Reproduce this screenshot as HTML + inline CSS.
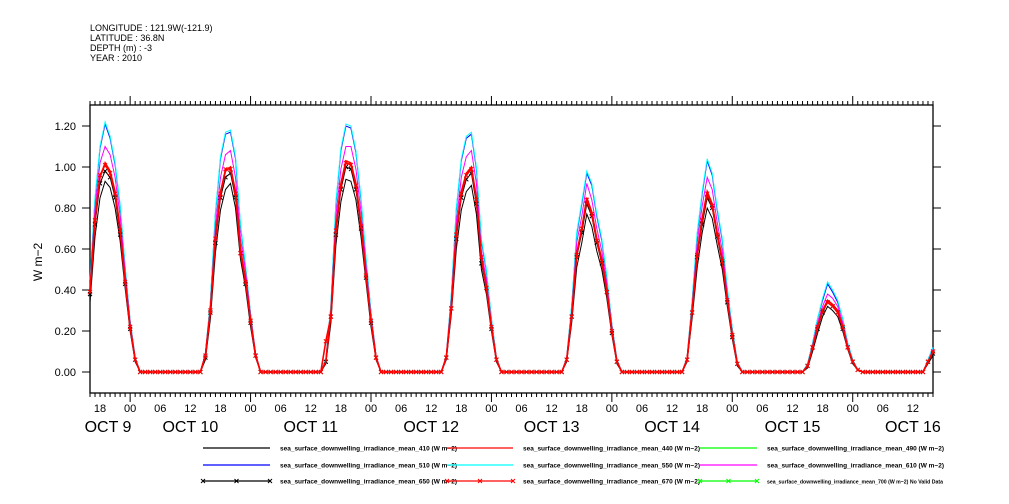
<!DOCTYPE html>
<html><head><meta charset="utf-8"><style>
body{margin:0;background:#fff;}
svg{display:block;font-family:"Liberation Sans",sans-serif;}
</style></head><body>
<svg id="chart" width="1009" height="504" viewBox="0 0 1009 504">
<g font-size="9" fill="#000">
<text x="90" y="31">LONGITUDE : 121.9W(-121.9)</text>
<text x="90" y="41">LATITUDE : 36.8N</text>
<text x="90" y="51">DEPTH (m) : -3</text>
<text x="90" y="61">YEAR : 2010</text>
</g>
<g id="axes"></g>
<g id="series"></g>
<g id="legend"></g>
</svg>
<script>
// Hours of day covered by each daily array: 14,15,...,23,00,01,02
const dayHours = [14,15,16,17,18,19,20,21,22,23,0,1,2];
const dayLabels = ["OCT  9","OCT 10","OCT 11","OCT 12","OCT 13","OCT 14","OCT 15","OCT 16"];
const yTicks = [0,0.2,0.4,0.6,0.8,1.0,1.2];
const hourTickLabels = ["00","06","12","18"];
// per-series daily values (Oct 9..Oct 15, then Oct 16 partial 14..16h)
const red440 = [
 [null,null,0.40,0.75,0.95,1.02,0.98,0.88,0.70,0.45,0.22,0.06,0],
 [0,0.08,0.30,0.66,0.88,0.98,1.00,0.88,0.60,0.45,0.25,0.08,0],
 [0,0.05,0.28,0.70,0.92,1.03,1.02,0.92,0.72,0.48,0.25,0.07,0],
 [0,0.07,0.32,0.68,0.88,0.97,1.00,0.85,0.55,0.42,0.22,0.06,0],
 [0,0.06,0.28,0.58,0.70,0.85,0.78,0.65,0.55,0.40,0.20,0.05,0],
 [0,0.06,0.30,0.58,0.75,0.88,0.82,0.68,0.55,0.35,0.18,0.04,0],
 [0,0.03,0.12,0.22,0.30,0.35,0.33,0.30,0.22,0.12,0.05,0.01,0],
 [0,0.05,0.10]];
const cyan550 = [
 [null,null,0.45,0.85,1.10,1.22,1.15,1.02,0.82,0.52,0.25,0.07,0],
 [0,0.09,0.35,0.78,1.05,1.17,1.18,1.05,0.72,0.52,0.28,0.09,0],
 [0,0.06,0.33,0.83,1.09,1.21,1.20,1.08,0.85,0.56,0.29,0.08,0],
 [0,0.08,0.38,0.80,1.04,1.15,1.17,1.00,0.65,0.50,0.26,0.07,0],
 [0,0.07,0.33,0.68,0.83,0.98,0.92,0.77,0.65,0.47,0.23,0.06,0],
 [0,0.07,0.35,0.68,0.88,1.04,0.97,0.80,0.65,0.41,0.21,0.05,0],
 [0,0.04,0.14,0.26,0.36,0.44,0.40,0.35,0.26,0.14,0.06,0.01,0],
 [0,0.06,0.12]];
const blue510 = [
 [null,null,0.44,0.84,1.09,1.21,1.14,1.01,0.81,0.51,0.25,0.07,0],
 [0,0.09,0.34,0.77,1.04,1.16,1.17,1.04,0.71,0.51,0.28,0.09,0],
 [0,0.06,0.32,0.82,1.08,1.20,1.19,1.07,0.84,0.55,0.29,0.08,0],
 [0,0.08,0.37,0.79,1.03,1.14,1.16,0.99,0.64,0.49,0.26,0.07,0],
 [0,0.07,0.32,0.67,0.82,0.97,0.91,0.76,0.64,0.46,0.23,0.06,0],
 [0,0.07,0.34,0.67,0.87,1.03,0.96,0.79,0.64,0.40,0.21,0.05,0],
 [0,0.04,0.14,0.26,0.35,0.43,0.39,0.34,0.26,0.14,0.06,0.01,0],
 [0,0.06,0.12]];
const magenta610 = [
 [null,null,0.42,0.80,1.02,1.10,1.06,0.95,0.76,0.49,0.24,0.06,0],
 [0,0.09,0.32,0.71,0.95,1.06,1.08,0.95,0.65,0.49,0.27,0.09,0],
 [0,0.05,0.30,0.76,0.99,1.10,1.10,0.99,0.78,0.52,0.27,0.08,0],
 [0,0.08,0.35,0.73,0.95,1.05,1.08,0.92,0.59,0.45,0.24,0.06,0],
 [0,0.06,0.30,0.63,0.76,0.92,0.84,0.70,0.59,0.43,0.22,0.05,0],
 [0,0.06,0.32,0.63,0.81,0.95,0.89,0.73,0.59,0.38,0.19,0.04,0],
 [0,0.03,0.13,0.24,0.32,0.38,0.36,0.32,0.24,0.13,0.05,0.01,0],
 [0,0.05,0.11]];
const black410 = [
 [null,null,0.34,0.66,0.85,0.93,0.90,0.80,0.64,0.41,0.20,0.05,0],
 [0,0.06,0.26,0.58,0.79,0.89,0.92,0.80,0.55,0.41,0.22,0.07,0],
 [0,0.04,0.24,0.62,0.83,0.94,0.93,0.84,0.66,0.44,0.22,0.06,0],
 [0,0.06,0.28,0.60,0.79,0.88,0.91,0.77,0.50,0.38,0.20,0.05,0],
 [0,0.05,0.24,0.51,0.63,0.77,0.71,0.59,0.50,0.36,0.18,0.04,0],
 [0,0.05,0.26,0.51,0.68,0.80,0.75,0.62,0.50,0.32,0.16,0.03,0],
 [0,0.02,0.10,0.19,0.27,0.32,0.30,0.27,0.20,0.11,0.04,0.01,0],
 [0,0.04,0.08]];
const black650 = [
 [null,null,0.38,0.72,0.92,0.98,0.95,0.85,0.67,0.43,0.21,0.06,0],
 [0,0.07,0.29,0.63,0.85,0.95,0.97,0.85,0.58,0.43,0.24,0.08,0],
 [0,0.05,0.27,0.67,0.89,1.00,0.99,0.89,0.70,0.46,0.24,0.07,0],
 [0,0.07,0.31,0.65,0.85,0.94,0.97,0.82,0.53,0.41,0.21,0.06,0],
 [0,0.06,0.27,0.56,0.68,0.82,0.76,0.63,0.53,0.39,0.19,0.05,0],
 [0,0.06,0.29,0.56,0.72,0.85,0.80,0.66,0.53,0.34,0.17,0.04,0],
 [0,0.03,0.12,0.21,0.29,0.34,0.32,0.29,0.21,0.12,0.05,0.01,0],
 [0,0.05,0.09]];
const red670 = [
 [null,null,0.39,0.74,0.96,1.01,0.97,0.87,0.69,0.44,0.22,0.06,0],
 [0,0.08,0.30,0.65,0.87,0.99,0.99,0.87,0.58,0.44,0.25,0.08,0],
 [0,0.15,0.27,0.69,0.91,1.02,1.01,0.91,0.71,0.47,0.25,0.07,0],
 [0,0.07,0.31,0.67,0.87,0.96,0.99,0.84,0.56,0.41,0.22,0.06,0],
 [0,0.06,0.27,0.57,0.70,0.84,0.77,0.64,0.54,0.39,0.20,0.05,0],
 [0,0.06,0.29,0.57,0.74,0.87,0.81,0.67,0.54,0.35,0.18,0.04,0],
 [0,0.03,0.12,0.22,0.30,0.34,0.32,0.29,0.22,0.12,0.05,0.01,0],
 [0,0.05,0.10]];

const NS="http://www.w3.org/2000/svg";
const X0=90,X1=933,Y0=393,Ytop=105;
const T0=16, TOTAL=168; // start Oct 9 16:00, span 168 h
function xs(t){return X0+(t/TOTAL)*(X1-X0);}
function ys(v){return 372-(v/1.2)*(372-126);}
function el(tag,attrs,parent){const e=document.createElementNS(NS,tag);for(const k in attrs)e.setAttribute(k,attrs[k]);parent.appendChild(e);return e;}

function buildSeries(days){
  const pts=[];
  for(let t=0;t<=TOTAL;t++){
    const abs=T0+t; const d=Math.floor(abs/24); const h=abs%24;
    let v=0;
    if(h>=14){const a=days[d]; const i=h-14; v=(a&&i<a.length)?a[i]:0;}
    else if(h<=2 && d>0){const a=days[d-1]; v=a?a[h+10]:0;}
    if(v===null||v===undefined) continue;
    pts.push([xs(t),ys(v)]);
  }
  return pts;
}

const axes=document.getElementById('axes');
const frame=el('rect',{x:X0,y:Ytop,width:X1-X0,height:Y0-Ytop,fill:'none',stroke:'#000','stroke-width':1.3},axes);


yTicks.forEach(v=>{
  const y=ys(v);
  const t1=el('line',{x1:X0-8,x2:X0,y1:y,y2:y,stroke:'#000'},axes);
  
  
  const t2=el('line',{x1:X1,x2:X1+8,y1:y,y2:y,stroke:'#000'},axes);
  
  
  const lb=el('text',{x:X0-14,y:y+4,'text-anchor':'end','font-size':11},axes);
  lb.textContent=v.toFixed(2);
  
  
});
const yt=el('text',{x:42,y:262,'text-anchor':'middle','font-size':12,transform:'rotate(-90 42 262)'},axes);
yt.textContent='W m−2';


for(let t=0;t<=TOTAL;t++){
  const abs=T0+t,h=abs%24,x=xs(t);
  const L=(h===0)?9:4;
  const a=el('line',{x1:x,x2:x,y1:Y0,y2:Y0+L,stroke:'#000'},axes);
  
  
  const b=el('line',{x1:x,x2:x,y1:Ytop,y2:Ytop-L,stroke:'#000'},axes);
  
  
  if(h%6===0 && t>0 && t<TOTAL){
    const lb=el('text',{x:x,y:412,'text-anchor':'middle','font-size':11},axes);
    lb.textContent=hourTickLabels[h/6];
    
    
  }
}
dayLabels.forEach((s,i)=>{
  let x = i===0 ? 108 : xs(i*24-T0+12);
  const lb=el('text',{x:x,y:432,'text-anchor':'middle','font-size':16,'xml:space':'preserve'},axes);
  lb.textContent=s;
  
  
});

const seriesDefs=[
 {name:'series-510',data:blue510,color:'#0000ff',mark:false},
 {name:'series-550',data:cyan550,color:'#00ffff',mark:false},
 {name:'series-610',data:magenta610,color:'#ff00ff',mark:false},
 {name:'series-410',data:black410,color:'#000000',mark:false},
 {name:'series-650',data:black650,color:'#000000',mark:true},
 {name:'series-440',data:red440,color:'#ff0000',mark:false},
 {name:'series-670',data:red670,color:'#ff0000',mark:true}
];
const sg=document.getElementById('series');
seriesDefs.forEach(s=>{
  const pts=buildSeries(s.data);
  const g=el('g',{},sg);
  
  
  const p=el('polyline',{points:pts.map(p=>p[0].toFixed(1)+','+p[1].toFixed(1)).join(' '),fill:'none',stroke:s.color,'stroke-width':s.color==='#ff0000'?1.6:1},g);
  
  
  if(s.mark){
    pts.forEach(q=>{
      const m=el('path',{d:`M${q[0]-2},${q[1]-2}L${q[0]+2},${q[1]+2}M${q[0]-2},${q[1]+2}L${q[0]+2},${q[1]-2}`,stroke:s.color,'stroke-width':1},g);
      
      
    });
  }
});

const legendItems=[
 ['410','#000',false,0,0],['440','#f00',false,1,0],['490','#0f0',false,2,0],
 ['510','#00f',false,0,1],['550','#0ff',false,1,1],['610','#f0f',false,2,1],
 ['650','#000',true,0,2],['670','#f00',true,1,2],['700','#0f0',true,2,2]];
const lg=document.getElementById('legend');
const colX=[[203,270,280],[447,513,523],[700,757,767]];
const rowY=[448,465,481];
legendItems.forEach(it=>{
  const [lx1,lx2,tx]=colX[it[3]],y=rowY[it[4]];
  const g=el('g',{},lg);
  
  
  el('line',{x1:lx1,x2:lx2,y1:y,y2:y,stroke:it[1],'stroke-width':1.2},g);
  if(it[2]){[lx1,(lx1+lx2)/2,lx2].forEach(x=>el('path',{d:`M${x-2},${y-2}L${x+2},${y+2}M${x-2},${y+2}L${x+2},${y-2}`,stroke:it[1]},g));}
  const t=el('text',{x:tx,y:y+2.5,'font-size':it[0]==='700'?5.5:6.5,'font-weight':'bold',textLength:it[0]==='700'?176:177,lengthAdjust:'spacingAndGlyphs'},g);
  t.textContent='sea_surface_downwelling_irradiance_mean_'+it[0]+' (W m−2)'+(it[0]==='700'?' No Valid Data':'');
});
</script>
</body></html>
